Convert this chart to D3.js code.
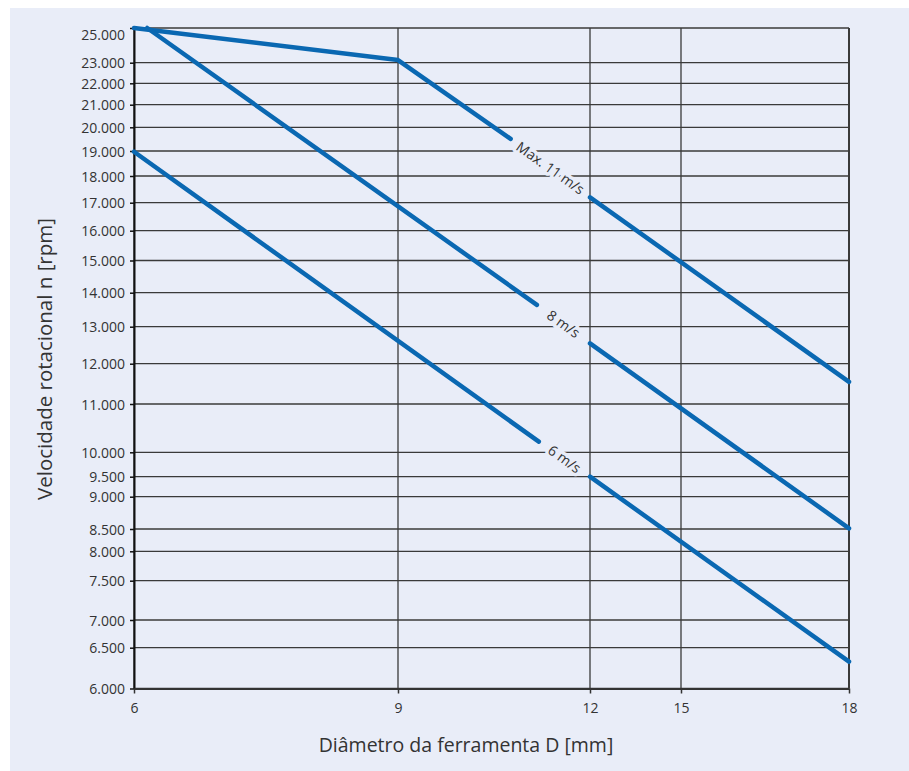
<!DOCTYPE html>
<html>
<head>
<meta charset="utf-8">
<script src="https://cdn.jsdelivr.net/npm/d3@7/dist/d3.min.js"></script>
<style>
  html, body { margin: 0; padding: 0; background: #ffffff; }
  svg { display: block; }
</style>
</head>
<body>
<svg id="chart" width="909" height="771"></svg>
<script>
// ---------------- DATA ----------------
const xTicks = [6, 9, 12, 15, 18];
const yTicks = [25000, 23000, 22000, 21000, 20000, 19000, 18000, 17000, 16000, 15000,
                14000, 13000, 12000, 11000, 10000, 9500, 9000, 8500, 8000, 7500, 7000, 6500, 6000];

// Each series: list of segments, each segment a list of [diameter, rpm]
const seriesNames = ["Max. 11 m/s", "8 m/s", "6 m/s"];
const maxSegments = [
  [[6, 25000], [9, 23150], [10.76, 19510]],
  [[12, 17200], [18, 11550]]
];
const v8Segments = [
  [[6.15, 25000], [11.17, 13640]],
  [[12, 12550], [18, 8510]]
];
const v6Segments = [
  [[6, 18970], [11.2, 10220]],
  [[12, 9500], [18, 6330]]
];
const allSeries = [maxSegments, v8Segments, v6Segments];

const xTitle = "Diâmetro da ferramenta D [mm]";
const yTitle = "Velocidade rotacional n [rpm]";

// ---------------- LAYOUT ----------------
const bg = "#e9edf8";
const plotLeft = 134, plotRight = 849, plotTop = 28, plotBottom = 688.5;
// graph-paper positions of the (non-uniform) printed axes
const xRange = [plotLeft, 398, 590, 681, plotRight];
const yRange = [plotTop, 62.7, 83.3, 104.7, 127.3, 151, 176, 202.7, 230.7, 260.5,
                292.7, 326.7, 363.7, 404, 452.3, 476.7, 496.7, 529, 551.3, 580.7, 620, 647.7, plotBottom];

const x = d3.scaleLinear().domain(xTicks).range(xRange);
const y = d3.scaleLinear().domain(yTicks).range(yRange);

const svg = d3.select("#chart");
svg.append("rect").attr("x", 10).attr("y", 8).attr("width", 899).attr("height", 763).attr("fill", bg);

const gridColor = "#3a3a3a";
const font = "'Open Sans', 'DejaVu Sans', sans-serif";

// Horizontal gridlines
svg.append("g").selectAll("line").data(yTicks).join("line")
  .attr("x1", plotLeft).attr("x2", plotRight)
  .attr("y1", d => y(d)).attr("y2", d => y(d))
  .attr("stroke", gridColor).attr("stroke-width", 1.3);

// Vertical gridlines
svg.append("g").selectAll("line").data(xTicks).join("line")
  .attr("x1", d => x(d)).attr("x2", d => x(d))
  .attr("y1", plotTop).attr("y2", plotBottom)
  .attr("stroke", gridColor).attr("stroke-width", d => d === 18 ? 2 : 1.3);

// Axes
const yAxis = d3.axisLeft(y).tickValues(yTicks).tickSize(4).tickSizeOuter(0).tickPadding(5)
  .tickFormat(d => d3.format(",")(d).replace(/,/g, "."));
const gy = svg.append("g").attr("transform", `translate(${plotLeft},0)`).call(yAxis);
gy.select(".domain").attr("stroke", "#111").attr("stroke-width", 2);
gy.selectAll(".tick line").attr("stroke", "#111").attr("stroke-width", 1.5);
gy.selectAll(".tick text").attr("font-family", font).attr("font-size", 14).attr("fill", "#333")
  .attr("dy", d => d === 25000 ? "0.85em" : "0.36em");

const xAxis = d3.axisBottom(x).tickValues(xTicks).tickSize(5).tickSizeOuter(0).tickPadding(10);
const gx = svg.append("g").attr("transform", `translate(0,${plotBottom})`).call(xAxis);
gx.select(".domain").attr("stroke", "#333").attr("stroke-width", 2);
gx.selectAll(".tick line").attr("stroke", "#333").attr("stroke-width", 1.5);
gx.selectAll(".tick text").attr("font-family", font).attr("font-size", 14).attr("fill", "#333");

// Lines
const line = d3.line().x(d => x(d[0])).y(d => y(d[1]));
const lineColor = "#0a68b2";
const gl = svg.append("g");
allSeries.forEach(segs => {
  gl.selectAll(null).data(segs).join("path")
    .attr("d", line)
    .attr("fill", "none").attr("stroke", lineColor).attr("stroke-width", 4.5)
    .attr("stroke-linecap", "round").attr("stroke-linejoin", "round");
});

// Labels placed in the gap of each line
allSeries.forEach((segs, i) => {
  const a = segs[0][segs[0].length - 1];
  const b = segs[1][0];
  const c = segs[1][1];
  const mx = (x(a[0]) + x(b[0])) / 2, my = (y(a[1]) + y(b[1])) / 2;
  const ang = Math.atan2(y(c[1]) - y(b[1]), x(c[0]) - x(b[0])) * 180 / Math.PI;
  svg.append("text")
    .attr("transform", `translate(${mx},${my}) rotate(${ang})`)
    .attr("text-anchor", "middle").attr("dy", "0.35em")
    .attr("font-family", font).attr("font-size", 14).attr("fill", "#333")
    .attr("stroke", bg).attr("stroke-width", 7).attr("paint-order", "stroke")
    .attr("stroke-linejoin", "round")
    .text(seriesNames[i]);
});

// Axis titles
svg.append("text").attr("x", 466).attr("y", 752).attr("text-anchor", "middle")
  .attr("font-family", font).attr("font-size", 19.5).attr("fill", "#333").text(xTitle);
svg.append("text").attr("transform", "translate(52,359) rotate(-90)").attr("text-anchor", "middle")
  .attr("font-family", font).attr("font-size", 20.5).attr("fill", "#333").text(yTitle);
</script>
</body>
</html>
